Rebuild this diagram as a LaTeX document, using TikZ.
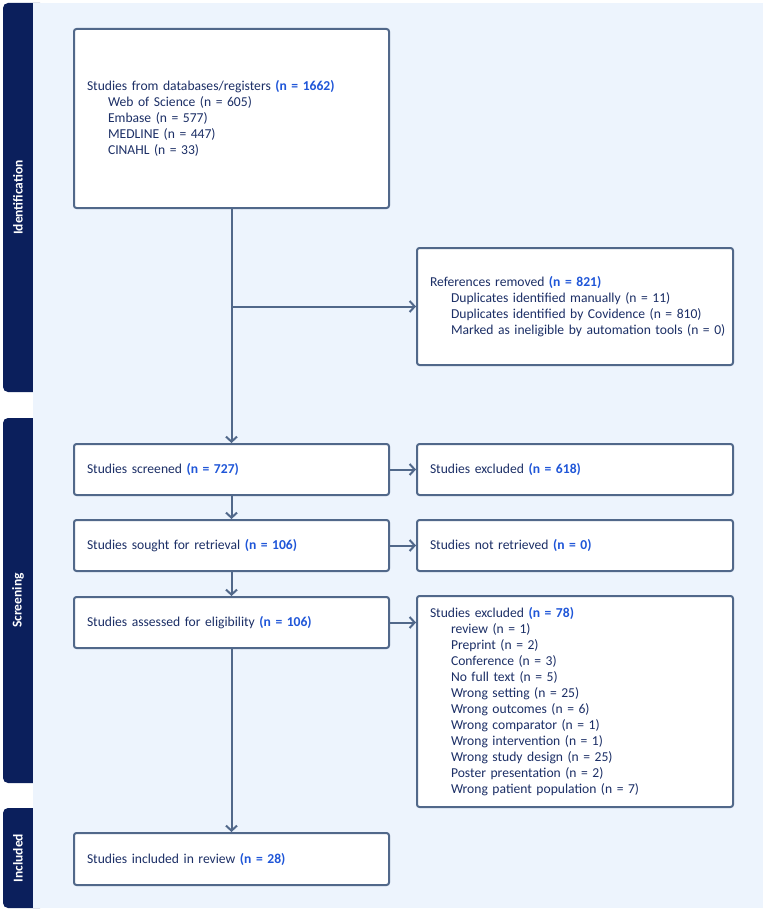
\documentclass[tikz,border=0pt]{standalone}
\usepackage{fontspec}
\setmainfont{Carlito}
\usetikzlibrary{arrows.meta}

\definecolor{bandnavy}{HTML}{0B1F5C}
\definecolor{panel}{HTML}{EDF4FD}
\definecolor{boxline}{HTML}{51688A}
\definecolor{txt}{HTML}{1C2F66}
\definecolor{hilite}{HTML}{1F56D8}

\newcommand\nval[1]{\textbf{\color{hilite}#1}}
\newcommand\subline[1]{\hspace*{21pt}\mbox{#1}}

\tikzset{
  flowbox/.style={draw=boxline, line width=2pt, fill=white, rounded corners=2.5pt,
    anchor=north west, align=left, inner xsep=13pt, inner ysep=0pt,
    text=txt, font=\fontsize{13.6}{16}\selectfont},
  leftbox/.style={flowbox, text width=289pt, minimum width=315pt},
  rightbox/.style={flowbox, text width=290pt, minimum width=316pt},
  flowarrow/.style={draw=boxline, line width=2pt,
    -{Straight Barb[length=5pt,width=11pt,line width=2pt]}},
  band/.style={fill=bandnavy, rounded corners=5pt},
  bandlabel/.style={rotate=90, text=white, font=\fontsize{13.5}{16}\selectfont\bfseries}
}

\begin{document}
\begin{tikzpicture}[x=1pt,y=-1pt]
\useasboundingbox (0,0) rectangle (767,912);

% phase bands on the left edge (right side hidden under the panel)
\path[band] (3,3) rectangle (45,392);
\path[band] (3,418) rectangle (45,783);
\path[band] (3,808) rectangle (45,908);

% light panel behind the flow
\fill[panel] (33,3) rectangle (763,908);

% phase labels
\node[bandlabel] (lblid) at (18,197.5) {Identification};
\node[bandlabel] (lblscr) at (18,600.5) {Screening};
\node[bandlabel] (lblinc) at (18,858) {Included};

% identification
\node[leftbox, minimum height=179pt] (db) at (73,28) {%
  Studies from databases/registers \nval{(n = 1662)}\\
  \subline{Web of Science (n = 605)}\\
  \subline{Embase (n = 577)}\\
  \subline{MEDLINE (n = 447)}\\
  \subline{CINAHL (n = 33)}\\[10pt]};

\node[rightbox, minimum height=117pt] (refs) at (416,247) {%
  References removed \nval{(n = 821)}\\
  \subline{Duplicates identified manually (n = 11)}\\
  \subline{Duplicates identified by Covidence (n = 810)}\\
  \subline{Marked as ineligible by automation tools (n = 0)}};

% screening
\node[leftbox, minimum height=51pt] (screened) at (73,443)
  {Studies screened \nval{(n = 727)}};
\node[rightbox, minimum height=51pt] (excl1) at (416,443)
  {Studies excluded \nval{(n = 618)}};

\node[leftbox, minimum height=51pt] (sought) at (73,519)
  {Studies sought for retrieval \nval{(n = 106)}};
\node[rightbox, minimum height=51pt] (notret) at (416,519)
  {Studies not retrieved \nval{(n = 0)}};

\node[leftbox, minimum height=51pt] (assessed) at (73,596)
  {Studies assessed for eligibility \nval{(n = 106)}};
\node[rightbox, minimum height=211pt] (excl2) at (416,595) {%
  Studies excluded \nval{(n = 78)}\\
  \subline{review (n = 1)}\\
  \subline{Preprint (n = 2)}\\
  \subline{Conference (n = 3)}\\
  \subline{No full text (n = 5)}\\
  \subline{Wrong setting (n = 25)}\\
  \subline{Wrong outcomes (n = 6)}\\
  \subline{Wrong comparator (n = 1)}\\
  \subline{Wrong intervention (n = 1)}\\
  \subline{Wrong study design (n = 25)}\\
  \subline{Poster presentation (n = 2)}\\
  \subline{Wrong patient population (n = 7)}};

% included
\node[leftbox, minimum height=52pt] (incl) at (73,832)
  {Studies included in review \nval{(n = 28)}};

% connectors
\coordinate (split) at (db.south |- refs.west);
\draw[flowarrow] (db.south) -- (screened.north);
\draw[flowarrow] (split) -- (refs.west);
\draw[flowarrow] (screened.east) -- (excl1.west);
\draw[flowarrow] (screened.south) -- (sought.north);
\draw[flowarrow] (sought.east) -- (notret.west);
\draw[flowarrow] (sought.south) -- (assessed.north);
\draw[flowarrow] (assessed.east) -- (assessed.east -| excl2.west);
\draw[flowarrow] (assessed.south) -- (incl.north);
\end{tikzpicture}
\end{document}
